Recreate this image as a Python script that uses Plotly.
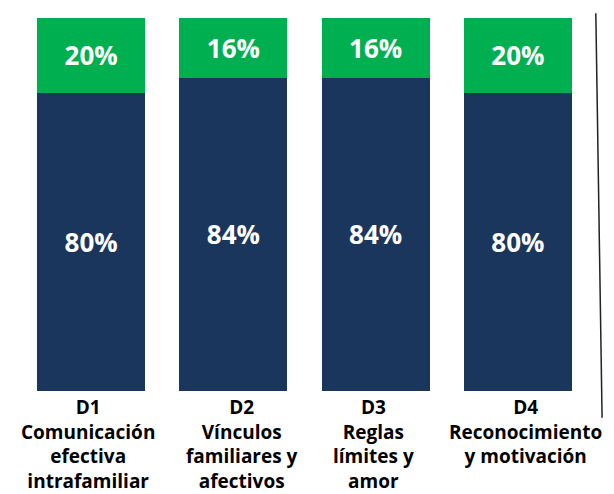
import plotly.graph_objects as go

categories = ["D1", "D2", "D3", "D4"]
tick_labels = [
    "D1<br>Comunicación<br>efectiva<br>intrafamiliar",
    "D2<br>Vínculos<br>familiares y<br>afectivos",
    "D3<br>Reglas<br>límites y<br>amor",
    "D4<br>Reconocimiento<br>y motivación",
]
bottom_values = [80, 84, 84, 80]
top_values = [20, 16, 16, 20]

NAVY = "#1b365d"
GREEN = "#00b050"
FONT = "Open Sans"
label_shift = [-3, 9, -2, 8]

fig = go.Figure()
for vals, color in [(bottom_values, NAVY), (top_values, GREEN)]:
    fig.add_trace(go.Bar(
        x=categories, y=vals,
        marker=dict(color=color, line=dict(width=0)),
        text=vals, texttemplate="<b>%{text}%</b>",
        textposition="inside", insidetextanchor="middle", textangle=0,
        textfont=dict(family=FONT, size=26, color="white"),
        showlegend=False,
    ))

# category labels under each bar
for cat, label, dx in zip(categories, tick_labels, label_shift):
    fig.add_annotation(
        x=cat, y=0, xref="x", yref="paper",
        yanchor="top", yshift=-1, xshift=dx,
        text="<b>" + label + "</b>", showarrow=False,
        font=dict(family=FONT, size=19, color="black"),
        align="center",
    )

fig.add_shape(
    type="line", xref="paper", yref="paper",
    x0=1.012, y0=1.013, x1=1.023, y1=-0.072,
    line=dict(color="#222222", width=1.5),
)

fig.update_layout(
    barmode="stack",
    bargap=0.24,
    width=614, height=494,
    margin=dict(l=20, r=25, t=18, b=103, autoexpand=False),
    plot_bgcolor="white",
    paper_bgcolor="white",
    font=dict(family=FONT, color="black"),
    uniformtext=dict(mode=False),
)
fig.update_xaxes(range=[-0.5, 3.5], showticklabels=False, showline=False,
                 showgrid=False, ticks="", automargin=False)
fig.update_yaxes(range=[0, 100], visible=False, showgrid=False, automargin=False)

# drop the default body margin so the figure sits at the window's corner
fig.write_html(
    "out.html",
    config={"displayModeBar": False},
    post_script="document.body.style.margin='0';",
)
